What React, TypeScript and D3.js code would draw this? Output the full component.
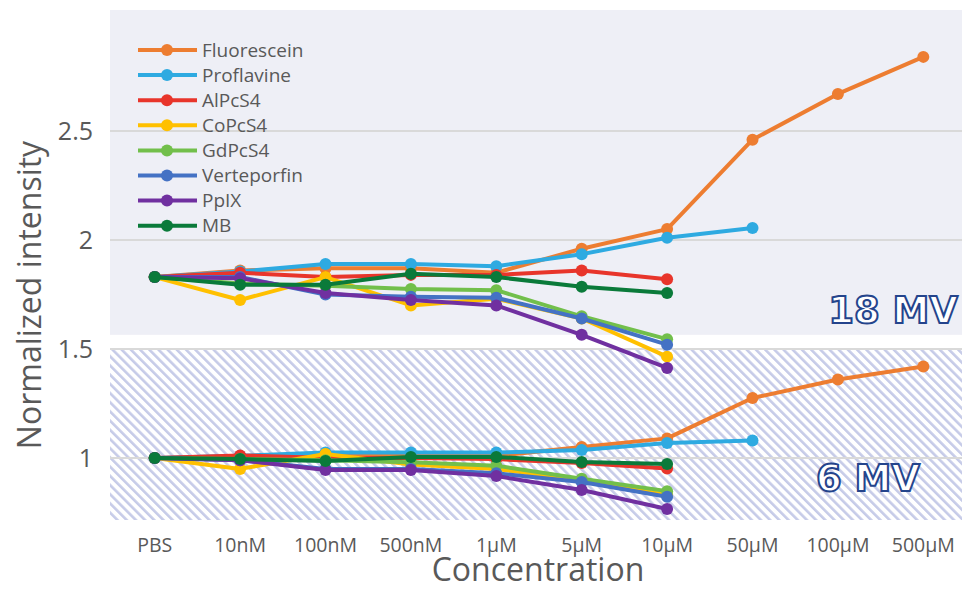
import React from 'react';
import * as d3 from 'd3';

// categories along the x axis
const categories = ['PBS', '10nM', '100nM', '500nM', '1μM', '5μM', '10μM', '50μM', '100μM', '500μM'];
const yTicks = [1, 1.5, 2, 2.5];

const seriesNames = ['Fluorescein', 'Proflavine', 'AlPcS4', 'CoPcS4', 'GdPcS4', 'Verteporfin', 'PpIX', 'MB'];
const seriesColors = ['#ed7d31', '#2eaae1', '#e8352b', '#ffc000', '#72bf4b', '#4472c4', '#7030a0', '#0a7a3a'];

// 18 MV measurements
const fluorescein18 = [1.83, 1.86, 1.87, 1.87, 1.85, 1.96, 2.05, 2.46, 2.67, 2.84];
const proflavine18 = [1.83, 1.855, 1.89, 1.89, 1.88, 1.935, 2.01, 2.055];
const alpcs4_18 = [1.83, 1.85, 1.83, 1.84, 1.84, 1.86, 1.82];
const copcs4_18 = [1.83, 1.725, 1.83, 1.7, 1.73, 1.64, 1.465];
const gdpcs4_18 = [1.83, 1.8, 1.79, 1.775, 1.77, 1.65, 1.545];
const verteporfin18 = [1.83, 1.83, 1.75, 1.74, 1.735, 1.64, 1.52];
const ppix18 = [1.83, 1.825, 1.757, 1.725, 1.7, 1.565, 1.413];
const mb18 = [1.83, 1.795, 1.795, 1.845, 1.83, 1.786, 1.757];

// 6 MV measurements
const fluorescein6 = [1.0, 1.0, 1.01, 1.01, 1.01, 1.05, 1.09, 1.275, 1.36, 1.42];
const proflavine6 = [1.0, 1.01, 1.025, 1.025, 1.025, 1.037, 1.069, 1.08];
const alpcs4_6 = [1.0, 1.012, 1.0, 1.0, 0.995, 0.977, 0.952];
const copcs4_6 = [1.0, 0.95, 1.018, 0.97, 0.95, 0.9, 0.83];
const gdpcs4_6 = [1.0, 0.995, 0.99, 0.98, 0.965, 0.905, 0.848];
const verteporfin6 = [1.0, 0.99, 0.95, 0.95, 0.93, 0.89, 0.822];
const ppix6 = [1.0, 0.99, 0.945, 0.945, 0.917, 0.853, 0.766];
const mb6 = [1.0, 0.995, 0.986, 1.005, 1.005, 0.982, 0.972];

const data18 = [fluorescein18, proflavine18, alpcs4_18, copcs4_18, gdpcs4_18, verteporfin18, ppix18, mb18];
const data6 = [fluorescein6, proflavine6, alpcs4_6, copcs4_6, gdpcs4_6, verteporfin6, ppix6, mb6];

const width = 965;
const height = 590;
const plotLeft = 110;
const plotRight = 962;
const plotTop = 10;
const plotBottom = 520;
const textColor = '#595959';
const font = "'Open Sans', 'Noto Sans', sans-serif";

const App = () => {
  const x = d3.scalePoint().domain(categories).range([112, 966]).padding(0.5);
  const y = d3.scaleLinear().domain([1, 2.5]).range([458, 131]);

  const line = d3.line<number>()
    .x((d, i) => x(categories[i]) as number)
    .y(d => y(d));

  const drawSeries = (sets: number[][], key: string) =>
    sets.map((vals, s) => (
      <g key={key + s}>
        <path d={line(vals) || ''} fill="none" stroke={seriesColors[s]} strokeWidth={4} strokeLinejoin="round" />
        {vals.map((v, i) => (
          <circle key={i} cx={x(categories[i])} cy={y(v)} r={6} fill={seriesColors[s]} />
        ))}
      </g>
    ));

  const hatchTop = y(1.5);
  const bandBottom = y(1.565);

  return (
    <svg width={width} height={height} style={{ position: 'absolute', left: 0, top: 0, background: '#fff' }}>
      <defs>
        <pattern id="hatch" patternUnits="userSpaceOnUse" width={6.5} height={6.5} patternTransform="rotate(-45)">
          <rect x={0} y={0} width={6.5} height={6.5} fill="#ffffff" />
          <rect x={0} y={0} width={2.6} height={6.5} fill="#c6cbe8" />
        </pattern>
      </defs>

      {/* backgrounds */}
      <rect x={plotLeft} y={plotTop} width={plotRight - plotLeft} height={bandBottom - plotTop} fill="#eeeff6" />
      <rect x={plotLeft} y={hatchTop} width={plotRight - plotLeft} height={plotBottom - hatchTop} fill="url(#hatch)" />

      {/* gridlines */}
      {yTicks.map(t => (
        <line key={t} x1={plotLeft} x2={plotRight} y1={y(t)} y2={y(t)} stroke="#d9d9d9" strokeWidth={2} />
      ))}

      {/* y tick labels */}
      {yTicks.map(t => (
        <text key={'yl' + t} x={93} y={y(t)} dy="0.35em" textAnchor="end" fontFamily={font} fontSize={25} fill={textColor}>
          {t}
        </text>
      ))}

      {/* x tick labels */}
      {categories.map(c => (
        <text key={c} x={x(c)} y={552} textAnchor="middle" fontFamily={font} fontSize={19.5} fill={textColor}>
          {c}
        </text>
      ))}

      <text x={538} y={581} textAnchor="middle" fontFamily={font} fontSize={32} fill={textColor}>
        Concentration
      </text>
      <text transform="translate(41,295) rotate(-90)" textAnchor="middle" fontFamily={font} fontSize={32} fill={textColor}>
        Normalized intensity
      </text>

      {/* labels for the two energies */}
      <text x={958} y={323} textAnchor="end" fontFamily="'DejaVu Sans', sans-serif" fontWeight="bold" fontSize={37}
        fill="#ffffff" stroke="#24448c" strokeWidth={2}>
        18 MV
      </text>
      <text x={920} y={491} textAnchor="end" fontFamily="'DejaVu Sans', sans-serif" fontWeight="bold" fontSize={37}
        fill="#ffffff" stroke="#24448c" strokeWidth={2}>
        6 MV
      </text>

      {drawSeries(data6, 'b')}
      {drawSeries(data18, 'a')}

      {/* legend */}
      {seriesNames.map((name, i) => {
        const ly = 50 + i * 25.1;
        return (
          <g key={name}>
            <line x1={138} x2={197} y1={ly} y2={ly} stroke={seriesColors[i]} strokeWidth={4} />
            <circle cx={167} cy={ly} r={6} fill={seriesColors[i]} />
            <text x={202} y={ly} dy="0.35em" fontFamily={font} fontSize={19} fill={textColor}>
              {name}
            </text>
          </g>
        );
      })}
    </svg>
  );
};

export default App;
